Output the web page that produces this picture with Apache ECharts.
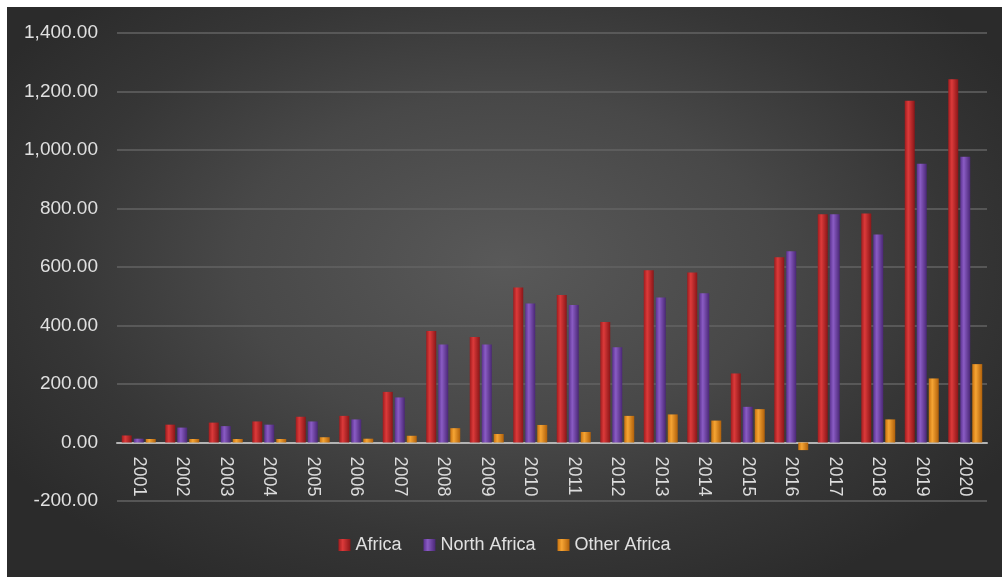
<!DOCTYPE html>
<html>
<head>
<meta charset="utf-8">
<script src="https://cdn.jsdelivr.net/npm/echarts@6/dist/echarts.min.js"></script>
<style>
  html, body { margin: 0; padding: 0; background: #ffffff; width: 1004px; height: 577px; overflow: hidden; }
  #wrap {
    position: absolute; left: 7px; top: 7px; width: 995px; height: 570px;
    background: radial-gradient(ellipse 60% 65% at 50% 45%, #595959 0%, #484848 45%, #363636 75%, #2b2b2b 100%);
  }
  #chart { width: 995px; height: 570px; }
</style>
</head>
<body>
<div id="wrap"><div id="chart"></div></div>
<script>
const years = ['2001','2002','2003','2004','2005','2006','2007','2008','2009','2010',
               '2011','2012','2013','2014','2015','2016','2017','2018','2019','2020'];
const africa      = [24, 61, 68, 72, 88, 91, 173, 381, 361, 530, 504, 412, 589, 581, 236, 633, 780, 783, 1168, 1242];
const northAfrica = [13, 51, 56, 61, 72, 79, 154, 335, 335, 475, 470, 326, 496, 510, 122, 654, 780, 711, 953, 977];
const otherAfrica = [12, 12, 12, 12, 18, 13, 23, 49, 29, 60, 36, 91, 96, 75, 114, -26, 0, 79, 219, 268];
const yTicks = { min: -200, max: 1400, interval: 200 };

function fmt(v) {
  const neg = v < 0;
  let s = Math.abs(v).toFixed(2);
  let [i, d] = s.split('.');
  i = i.replace(/\B(?=(\d{3})+(?!\d))/g, ',');
  return (neg ? '-' : '') + i + '.' + d;
}

function grad(c0, c1, c2) {
  return new echarts.graphic.LinearGradient(0, 0, 1, 0, [
    { offset: 0, color: c0 },
    { offset: 0.35, color: c1 },
    { offset: 1, color: c2 }
  ]);
}

const H = 570, gridTop = 26, gridBottom = 76;
const gridH = H - gridTop - gridBottom;
// move the category axis up to the zero line
const zeroOffset = -((0 - yTicks.min) / (yTicks.max - yTicks.min)) * gridH;

const font = 'Liberation Sans, Arial, sans-serif';
const chart = echarts.init(document.getElementById('chart'), null, { renderer: 'canvas' });
chart.setOption({
  backgroundColor: 'transparent',
  animation: false,
  textStyle: { fontFamily: font },
  grid: { left: 110, right: 15, top: gridTop, bottom: gridBottom, containLabel: false },
  legend: {
    bottom: 18,
    left: 'center',
    itemWidth: 12,
    itemHeight: 12,
    itemGap: 22,
    icon: 'rect',
    textStyle: { color: '#e0e0e0', fontSize: 18, fontFamily: font },
    data: ['Africa', 'North Africa', 'Other Africa']
  },
  xAxis: {
    type: 'category',
    data: years,
    offset: zeroOffset,
    axisLine: { onZero: false, lineStyle: { color: '#b4b4b4', width: 2 } },
    axisTick: { show: false },
    axisLabel: { rotate: -90, color: '#dcdcdc', fontSize: 18, margin: 14, fontFamily: font }
  },
  yAxis: {
    type: 'value',
    min: yTicks.min, max: yTicks.max, interval: yTicks.interval,
    axisLine: { show: false },
    axisTick: { show: false },
    axisLabel: { color: '#e0e0e0', fontSize: 19, margin: 19, formatter: fmt, fontFamily: font },
    splitLine: { lineStyle: { color: '#636363', width: 1.5 } }
  },
  series: [
    {
      name: 'Africa', type: 'bar', data: africa, barWidth: 10, barGap: '20%',
      itemStyle: { color: grad('#a01c1e', '#dc3a3a', '#8a1618') }
    },
    {
      name: 'North Africa', type: 'bar', data: northAfrica, barWidth: 10, barGap: '20%',
      itemStyle: { color: grad('#5b3190', '#8a5cc4', '#4a2776') }
    },
    {
      name: 'Other Africa', type: 'bar', data: otherAfrica, barWidth: 10, barGap: '20%',
      itemStyle: { color: grad('#c8720e', '#f6a534', '#b0600a') }
    }
  ]
});
</script>
</body>
</html>
